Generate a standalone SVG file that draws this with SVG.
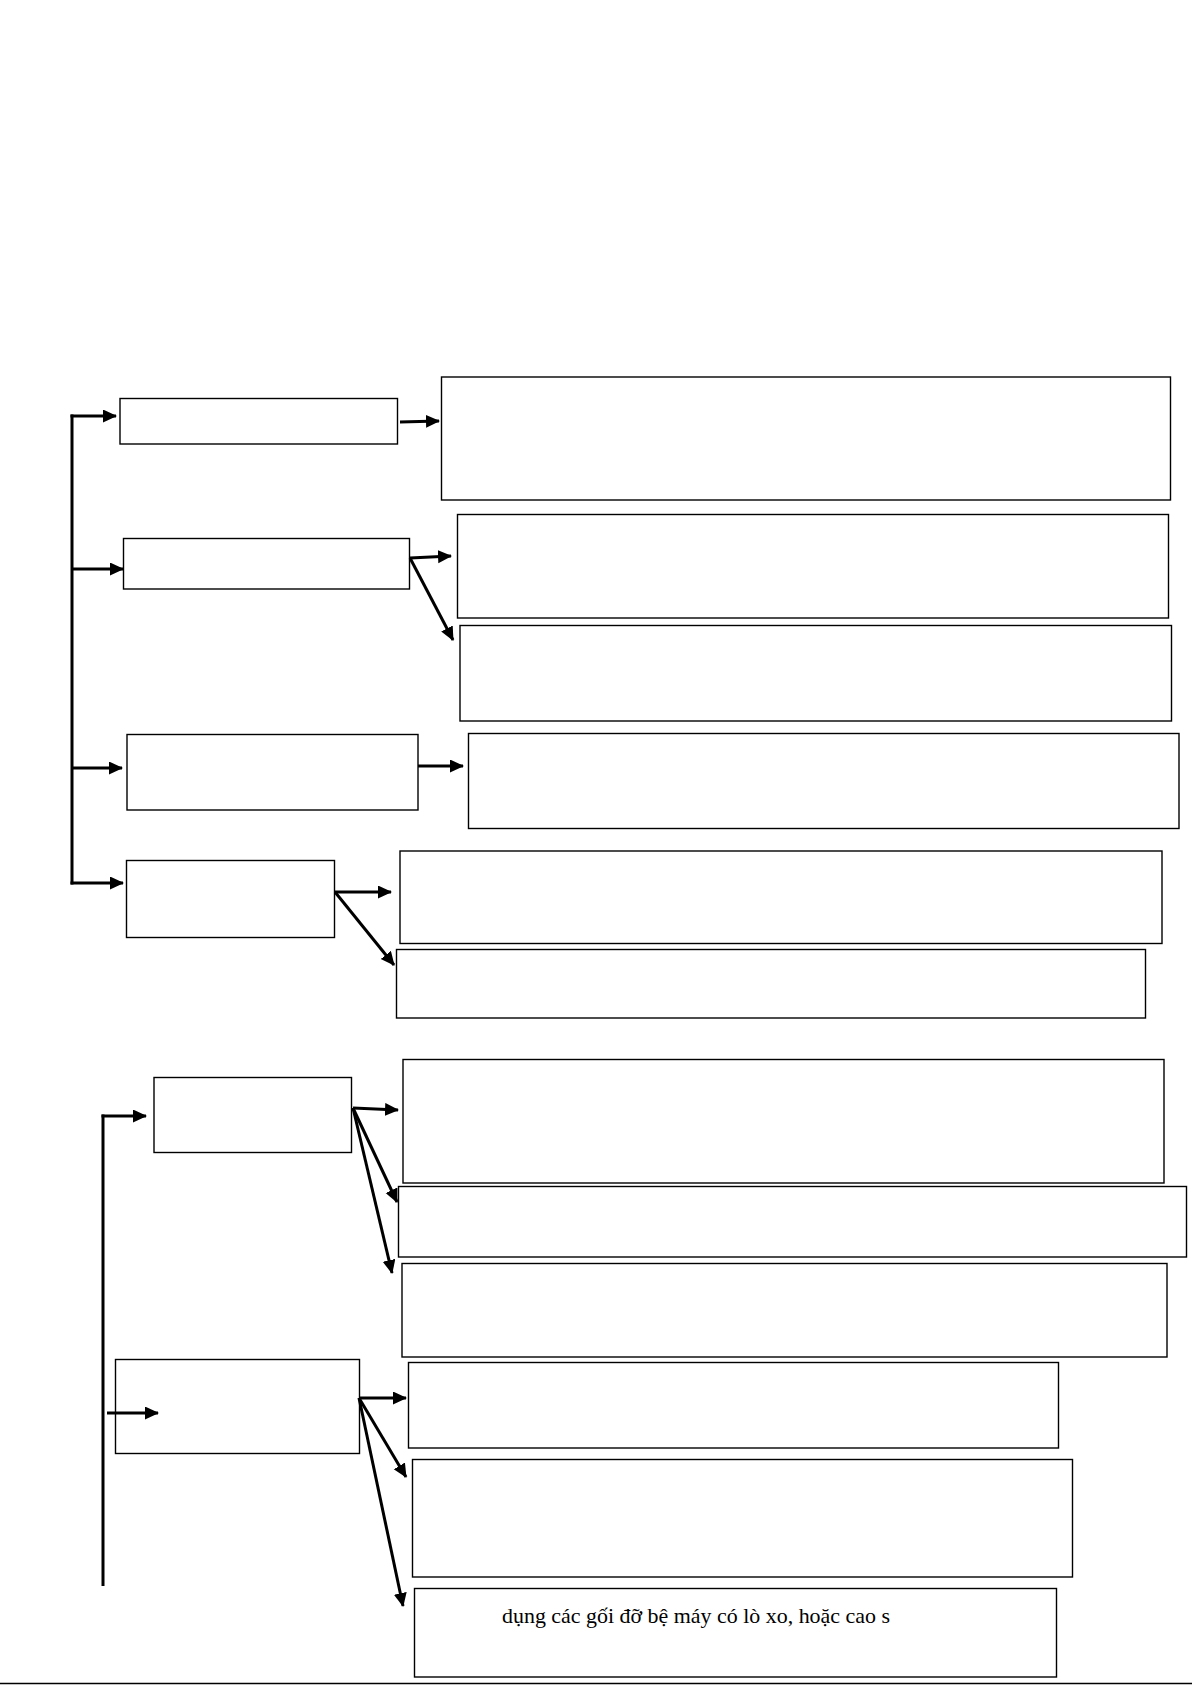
<svg xmlns="http://www.w3.org/2000/svg" width="1192" height="1685" viewBox="0 0 1192 1685">
<style>
.box{fill:#fff;stroke:#000;stroke-width:1.4}
.con{fill:none;stroke:#000;stroke-width:3}
.arr{marker-end:url(#ah)}
.txt{font-family:"Liberation Serif","DejaVu Serif",serif;font-size:22px;fill:#000}
</style>
<defs>
<marker id="ah" markerUnits="userSpaceOnUse" markerWidth="15" markerHeight="14" refX="13" refY="6.5" orient="auto">
<path d="M0,0 L14,6.5 L0,13 z" fill="#000"/>
</marker>
</defs>
<rect width="1192" height="1685" fill="#fff"/>
<g id="nodes">
<g id="nA"><rect class="box" x="120" y="398.5" width="277.5" height="45.5"/></g>
<g id="nR1"><rect class="box" x="441.5" y="377" width="729" height="123"/></g>
<g id="nB"><rect class="box" x="123.5" y="538.5" width="286" height="50.5"/></g>
<g id="nR2"><rect class="box" x="457.5" y="514.5" width="711" height="103.5"/></g>
<g id="nR3"><rect class="box" x="460" y="625.5" width="711.5" height="95.5"/></g>
<g id="nC"><rect class="box" x="127" y="734.5" width="291" height="75.5"/></g>
<g id="nR4"><rect class="box" x="468.5" y="733.5" width="710.5" height="95"/></g>
<g id="nD"><rect class="box" x="126.5" y="860.5" width="208" height="77"/></g>
<g id="nR5"><rect class="box" x="400" y="851" width="762" height="92.5"/></g>
<g id="nR6"><rect class="box" x="396.5" y="949.5" width="749" height="68.5"/></g>
<g id="nE"><rect class="box" x="154" y="1077.5" width="197.5" height="75"/></g>
<g id="nR7"><rect class="box" x="403" y="1059.5" width="761" height="123.5"/></g>
<g id="nR8"><rect class="box" x="398.5" y="1186.5" width="788" height="70.5"/></g>
<g id="nR9"><rect class="box" x="402" y="1263.5" width="765" height="93.5"/></g>
<g id="nF"><rect class="box" x="115.5" y="1359.5" width="244" height="94"/></g>
<g id="nR10"><rect class="box" x="408.5" y="1362.5" width="650" height="85.5"/></g>
<g id="nR11"><rect class="box" x="412.5" y="1459.5" width="660" height="117.5"/></g>
<g id="nR12"><rect class="box" x="414.5" y="1588.5" width="642" height="88.5"/>
<text class="txt" x="502" y="1623" textLength="388" lengthAdjust="spacingAndGlyphs">dụng các gối đỡ bệ máy có lò xo, hoặc cao s</text></g>
</g>
<g id="connectors">
<path class="con" d="M72,414.5 V884.5"/>
<path class="con arr" d="M70.5,416 H116"/>
<path class="con arr" d="M72,569 H123"/>
<path class="con arr" d="M72,768 H122"/>
<path class="con arr" d="M70.5,883 H123"/>
<path class="con arr" d="M400,422 L439,421"/>
<path class="con arr" d="M410,558 L451,556"/>
<path class="con arr" d="M410,558 L453,640"/>
<path class="con arr" d="M418,766 L463,766"/>
<path class="con arr" d="M335,892 L391,892"/>
<path class="con arr" d="M335,892 L394,965"/>
<path class="con" d="M103,1114.5 V1586"/>
<path class="con arr" d="M101.5,1116 H146"/>
<path class="con arr" d="M353,1108 L398,1110"/>
<path class="con arr" d="M353,1108 L397,1202"/>
<path class="con arr" d="M353,1108 L392,1273"/>
<path class="con arr" d="M107,1413 H158"/>
<path class="con arr" d="M359,1398 L406,1398"/>
<path class="con arr" d="M359,1398 L406,1477"/>
<path class="con arr" d="M359,1398 L403,1606"/>
</g>
<line x1="0" y1="1683.5" x2="1192" y2="1683.5" stroke="#000" stroke-width="1.5"/>
</svg>
